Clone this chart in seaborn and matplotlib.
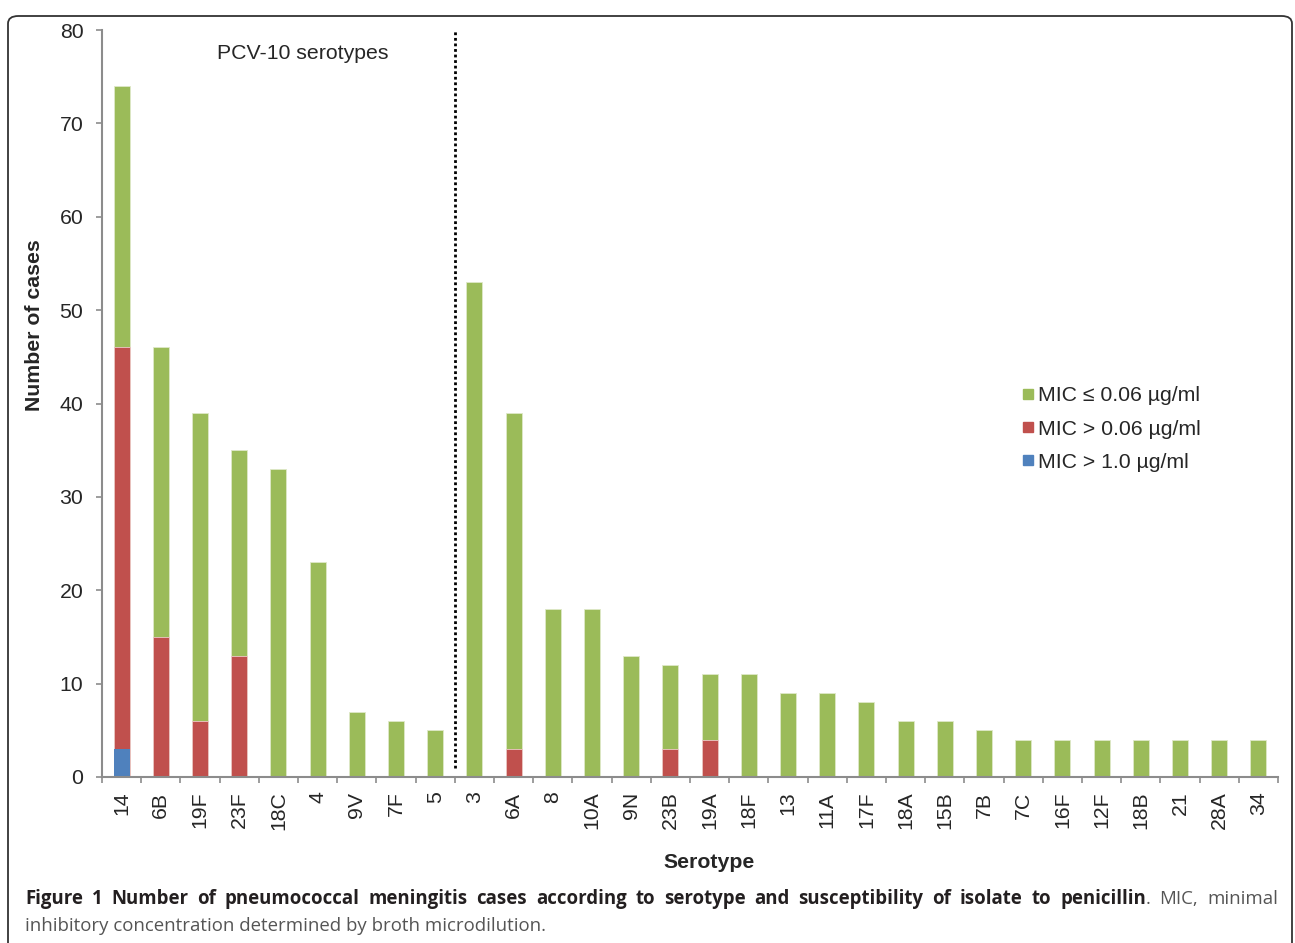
import matplotlib
matplotlib.use("Agg")
import matplotlib.pyplot as plt
import seaborn as sns
import pandas as pd
from matplotlib.lines import Line2D
from matplotlib.patches import FancyBboxPatch

# serotypes in plotted order
serotypes = ["14", "6B", "19F", "23F", "18C", "4", "9V", "7F", "5",
             "3", "6A", "8", "10A", "9N", "23B", "19A", "18F", "13", "11A",
             "17F", "18A", "15B", "7B", "7C", "16F", "12F", "18B", "21", "28A", "34"]
# stacked segments (cases)
mic_low = [28, 31, 33, 22, 33, 23, 7, 6, 5,
           53, 36, 18, 18, 13, 9, 7, 11, 9, 9,
           8, 6, 6, 5, 4, 4, 4, 4, 4, 4, 4]
mic_mid = [43, 15, 6, 13, 0, 0, 0, 0, 0,
           0, 3, 0, 0, 0, 3, 4, 0, 0, 0,
           0, 0, 0, 0, 0, 0, 0, 0, 0, 0, 0]
mic_high = [3, 0, 0, 0, 0, 0, 0, 0, 0,
            0, 0, 0, 0, 0, 0, 0, 0, 0, 0,
            0, 0, 0, 0, 0, 0, 0, 0, 0, 0, 0]
legend_labels = ["MIC \u2264 0.06 \u00b5g/ml", "MIC > 0.06 \u00b5g/ml", "MIC > 1.0 \u00b5g/ml"]

GREEN = "#9BBB59"
RED = "#C0504D"
BLUE = "#4F81BD"
FS = 15.3

sns.set_theme(style="white")
plt.rcParams["font.family"] = ["Liberation Sans", "DejaVu Sans"]

df = pd.DataFrame({"serotype": serotypes, "low": mic_low, "mid": mic_mid, "high": mic_high})
df["top_mid"] = df["mid"] + df["high"]
df["total"] = df["low"] + df["top_mid"]

fig = plt.figure(figsize=(12.95, 9.43), dpi=100)
W, H = 1295, 943
ax = fig.add_axes([102 / W, 1 - 777 / H, (1278 - 102) / W, (777 - 30) / H])

bw = 0.41
sns.barplot(data=df, x="serotype", y="total", order=serotypes, color=GREEN,
            width=bw, saturation=1, edgecolor="#dfe9c8", linewidth=0.6, ax=ax)
sns.barplot(data=df, x="serotype", y="top_mid", order=serotypes, color=RED,
            width=bw, saturation=1, edgecolor="#eec9c8", linewidth=0.6, ax=ax)
sns.barplot(data=df, x="serotype", y="high", order=serotypes, color=BLUE,
            width=bw, saturation=1, linewidth=0, ax=ax)

ax.set_xlim(-0.5, len(serotypes) - 0.5)
ax.set_ylim(0, 80)
ax.set_yticks(range(0, 81, 10))

for s in ["top", "right"]:
    ax.spines[s].set_visible(False)
for s in ["left", "bottom"]:
    ax.spines[s].set_color("#8c8c8c")
    ax.spines[s].set_linewidth(1.5)

ax.tick_params(axis="y", which="major", left=True, length=4, width=1.2,
               color="#8c8c8c", labelsize=FS, pad=9.5, direction="out")
ax.tick_params(axis="x", which="major", bottom=False, length=0, labelsize=FS, pad=10.5,
               labelrotation=90)
ax.set_xticks([i - 0.5 for i in range(len(serotypes) + 1)], minor=True)
ax.tick_params(axis="x", which="minor", bottom=True, length=4, width=1.2,
               color="#8c8c8c", direction="out")
for lbl in ax.get_xticklabels():
    lbl.set_verticalalignment("top")

ax.set_xlabel("Serotype", fontsize=FS, fontweight="bold")
ax.xaxis.set_label_coords((709 - 102) / 1176, (777 - 862) / 747)
ax.xaxis.label.set_verticalalignment("center")
ax.set_ylabel("Number of cases", fontsize=FS, fontweight="bold")
ax.yaxis.set_label_coords((34 - 102) / 1176, (777 - 325) / 747)
ax.yaxis.label.set_verticalalignment("center")
ax.yaxis.label.set_horizontalalignment("center")

# PCV-10 divider
ax.axvline(8.5, ymin=0.012, ymax=1, color="black", linestyle=(0, (1, 1)), linewidth=2)
ax.text(4.63, 77.5, "PCV-10 serotypes", fontsize=FS, ha="center", va="center")

handles = [Line2D([], [], marker="s", linestyle="", markersize=7.5, color=c)
           for c in (GREEN, RED, BLUE)]
ax.legend(handles, legend_labels, loc="center left",
          bbox_to_anchor=((1022 - 102) / 1176, (777 - 429) / 747),
          frameon=False, fontsize=FS, handlelength=0.6, handletextpad=0.15,
          labelspacing=0.67, borderaxespad=0, borderpad=0)

# outer rounded frame
frame = FancyBboxPatch((8 / W, -20 / H), (1292 - 8) / W, (935 + 20 - 8) / H,
                       boxstyle="round,pad=0,rounding_size=0.008",
                       transform=fig.transFigure, fill=False,
                       edgecolor="#333333", linewidth=1.3)
fig.patches.append(frame)

# caption, first line justified word by word
cap_font = ["Open Sans", "DejaVu Sans"]
CFS = 13.4
bold_part = ("Figure 1 Number of pneumococcal meningitis cases according to serotype "
             "and susceptibility of isolate to penicillin").split()
tokens = [[(w, "bold")] for w in bold_part]
tokens[-1].append((".", "normal"))
tokens += [[("MIC,", "normal")], [("minimal", "normal")]]

renderer = fig.canvas.get_renderer()
y1 = 1 - 899 / H


def piece_width(txt, weight):
    t = fig.text(0, 0, txt, family=cap_font, fontsize=CFS, fontweight=weight)
    w = t.get_window_extent(renderer).width
    t.remove()
    return w


widths = [sum(piece_width(t, wt) for t, wt in tok) for tok in tokens]
gap = (1278 - 25 - sum(widths)) / (len(tokens) - 1)
x = 25.0
for tok, w in zip(tokens, widths):
    xx = x
    for txt, wt in tok:
        fig.text(xx / W, y1, txt, family=cap_font, fontsize=CFS, fontweight=wt,
                 color="#231f20" if wt == "bold" else "#555555", ha="left", va="center")
        xx += piece_width(txt, wt)
    x += w + gap

fig.text(25 / W, 1 - 926 / H, "inhibitory concentration determined by broth microdilution.",
         family=cap_font, fontsize=CFS, color="#555555", ha="left", va="center")

fig.savefig("out.png", dpi=100)
